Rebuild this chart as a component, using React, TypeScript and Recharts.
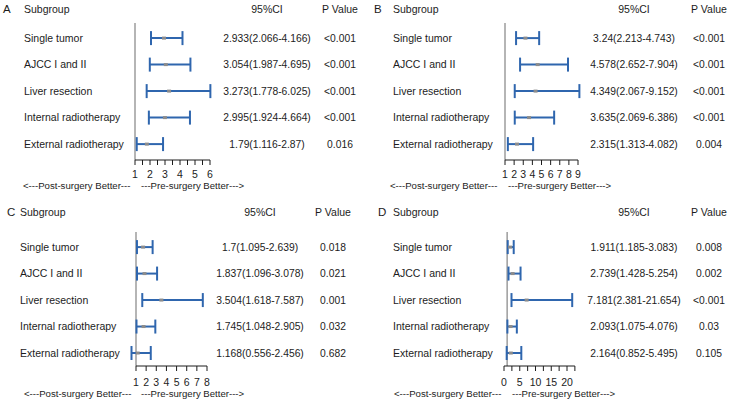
import React from 'react'
import { ScatterChart, Scatter, XAxis, YAxis, ErrorBar, ReferenceLine } from 'recharts'

const subgroups = ['Single tumor', 'AJCC I and II', 'Liver resection', 'Internal radiotherapy', 'External radiotherapy']

const hrA = [2.933, 3.054, 3.273, 2.995, 1.79]
const loA = [2.066, 1.987, 1.778, 1.924, 1.116]
const hiA = [4.166, 4.695, 6.025, 4.664, 2.87]
const pA = ['<0.001', '<0.001', '<0.001', '<0.001', '0.016']

const hrB = [3.24, 4.578, 4.349, 3.635, 2.315]
const loB = [2.213, 2.652, 2.067, 2.069, 1.313]
const hiB = [4.743, 7.904, 9.152, 6.386, 4.082]
const pB = ['<0.001', '<0.001', '<0.001', '<0.001', '0.004']

const hrC = [1.7, 1.837, 3.504, 1.745, 1.168]
const loC = [1.095, 1.096, 1.618, 1.048, 0.556]
const hiC = [2.639, 3.078, 7.587, 2.905, 2.456]
const pC = ['0.018', '0.021', '0.001', '0.032', '0.682']

const hrD = [1.911, 2.739, 7.181, 2.093, 2.164]
const loD = [1.185, 1.428, 2.381, 1.075, 0.852]
const hiD = [3.083, 5.254, 21.654, 4.076, 5.495]
const pD = ['0.008', '0.002', '<0.001', '0.03', '0.105']

const ticksA = [1, 1.5, 2, 2.5, 3, 3.5, 4, 4.5, 5, 5.5, 6]
const ticksB = [1, 2, 3, 4, 5, 6, 7, 8, 9]
const ticksC = [1, 2, 3, 4, 5, 6, 7, 8]
const ticksD = [0, 2.5, 5, 7.5, 10, 12.5, 15, 17.5, 20, 22.5]

const INK = '#1c1c1c'
const BLUE = '#2f66ae'
const FONT = '"Liberation Sans", Arial, sans-serif'

const buildRows = (hr: number[], lo: number[], hi: number[], p: string[]) =>
  subgroups.map((name, i) => ({
    row: i + 1,
    name,
    hr: hr[i],
    err: [hr[i] - lo[i], hi[i] - hr[i]],
    ci: `${hr[i]}(${lo[i]}-${hi[i]})`,
    p: p[i],
  }))

type Layout = {
  letter: string
  hr: number[]; lo: number[]; hi: number[]; p: string[]
  ticks: number[]; labelStep: number
  anchor: [number, number, number, number] // value0, px0, value1, px1
  letterX: number; subX: number; ciX: number; pX: number; headerY: number
  plotTop: number; axisY: number; yDomain: [number, number]; tickMargin: number
  footY: number; footX1: number; footX2: number
  height: number
}

const panels: Layout[] = [
  {
    letter: 'A', hr: hrA, lo: loA, hi: hiA, p: pA, ticks: ticksA, labelStep: 1,
    anchor: [1, 135, 6, 210], letterX: 3, subX: 24, ciX: 267, pX: 340, headerY: 9,
    plotTop: 23, axisY: 160, yDomain: [0.43, 5.6], tickMargin: 6, footY: 186, footX1: 23, footX2: 141, height: 200,
  },
  {
    letter: 'B', hr: hrB, lo: loB, hi: hiB, p: pB, ticks: ticksB, labelStep: 1,
    anchor: [1, 139, 9, 212], letterX: 8, subX: 27, ciX: 268, pX: 343, headerY: 9,
    plotTop: 23, axisY: 160, yDomain: [0.43, 5.6], tickMargin: 6, footY: 186, footX1: 24, footX2: 142, height: 200,
  },
  {
    letter: 'C', hr: hrC, lo: loC, hi: hiC, p: pC, ticks: ticksC, labelStep: 1,
    anchor: [1, 136, 8, 207], letterX: 7, subX: 20, ciX: 260, pX: 333, headerY: 12,
    plotTop: 32, axisY: 166, yDomain: [0.43, 5.49], tickMargin: 8, footY: 194, footX1: 24, footX2: 141, height: 204,
  },
  {
    letter: 'D', hr: hrD, lo: loD, hi: hiD, p: pD, ticks: ticksD, labelStep: 5,
    anchor: [0, 138, 20, 201], letterX: 12, subX: 27, ciX: 268, pX: 343, headerY: 12,
    plotTop: 32, axisY: 166, yDomain: [0.43, 5.49], tickMargin: 8, footY: 194, footX1: 28, footX2: 146, height: 204,
  },
]

const W = 366

function Label({ x, y, children, anchor = 'start', size = 10.5 }: any) {
  const shift = anchor === 'middle' ? 'translateX(-50%)' : 'none'
  return (
    <div style={{ position: 'absolute', left: x, top: y - 6, lineHeight: '12px', fontSize: size, color: INK, whiteSpace: 'nowrap', transform: shift }}>
      {children}
    </div>
  )
}

function ForestPanel({ cfg }: { cfg: Layout }) {
  const rows = buildRows(cfg.hr, cfg.lo, cfg.hi, cfg.p)
  const [v0, px0, v1, px1] = cfg.anchor
  const k = (px1 - px0) / (v1 - v0)
  const axisStart = cfg.ticks[0]
  const axisEnd = cfg.ticks[cfg.ticks.length - 1]
  const d0 = Math.min(axisStart, ...cfg.lo)
  const d1 = Math.max(axisEnd, ...cfg.hi)
  const left = px0 + (d0 - v0) * k
  const right = px0 + (d1 - v0) * k

  const rowTick = (props: any) => {
    const r = rows.find(d => d.row === props.payload.value)
    if (!r) return <g />
    return (
      <g fill={INK}>
        <text x={cfg.subX} y={props.y} dy="0.35em" textAnchor="start" fill={INK} fontSize={10.5}>{r.name}</text>
        <text x={cfg.ciX} y={props.y} dy="0.35em" textAnchor="middle" fill={INK} fontSize={10.3}>{r.ci}</text>
        <text x={cfg.pX} y={props.y} dy="0.35em" textAnchor="middle" fill={INK} fontSize={10.3}>{r.p}</text>
      </g>
    )
  }

  const fmt = (v: number) => {
    const q = v / cfg.labelStep
    return Math.abs(q - Math.round(q)) < 1e-9 ? String(v) : ''
  }

  return (
    <div style={{ position: 'relative', width: W, height: cfg.height }}>
      <Label x={cfg.letterX} y={cfg.headerY} size={11.5}>{cfg.letter}</Label>
      <Label x={cfg.subX} y={cfg.headerY}>Subgroup</Label>
      <Label x={cfg.ciX} y={cfg.headerY} anchor="middle">95%CI</Label>
      <Label x={cfg.pX} y={cfg.headerY} anchor="middle">P Value</Label>
      <div style={{ position: 'absolute', left: 0, top: 0 }}>
        <ScatterChart width={W} height={cfg.axisY + 25} margin={{ top: cfg.plotTop, right: W - right, bottom: 0, left: 0 }}>
          <XAxis
            type="number"
            dataKey="hr"
            domain={[d0, d1]}
            ticks={cfg.ticks}
            interval={0}
            tickFormatter={fmt}
            height={25}
            axisLine={false}
            tickSize={5}
            tickMargin={cfg.tickMargin}
            tickLine={{ stroke: INK }}
            tick={{ fontSize: 10.5, fill: INK }}
          />
          <YAxis
            type="number"
            dataKey="row"
            domain={cfg.yDomain}
            ticks={[1, 2, 3, 4, 5]}
            interval={0}
            reversed
            width={left}
            axisLine={false}
            tickLine={false}
            tick={rowTick}
          />
          <ReferenceLine x={1} stroke="#9c9c9c" strokeWidth={1.5} />
          <ReferenceLine
            segment={[{ x: axisStart, y: cfg.yDomain[1] }, { x: axisEnd, y: cfg.yDomain[1] }]}
            stroke={INK}
            strokeWidth={1}
          />
          <Scatter
            data={rows}
            isAnimationActive={false}
            shape={(s: any) => <rect x={s.cx - 2} y={s.cy - 1.5} width={4} height={3} fill="#8c8c8c" />}
          >
            <ErrorBar dataKey="err" direction="x" stroke={BLUE} strokeWidth={2} width={7} />
          </Scatter>
        </ScatterChart>
      </div>
      <Label x={cfg.footX1} y={cfg.footY} size={9.6}>{'<---Post-surgery Better---'}</Label>
      <Label x={cfg.footX2} y={cfg.footY} size={9.6}>{'---Pre-surgery Better--->'}</Label>
    </div>
  )
}

export default function App() {
  return (
    <div style={{ position: 'absolute', left: 0, top: 0, width: 732, height: 404, background: '#fff', fontFamily: FONT, display: 'flex', flexWrap: 'wrap' }}>
      {panels.map(cfg => <ForestPanel key={cfg.letter} cfg={cfg} />)}
    </div>
  )
}
